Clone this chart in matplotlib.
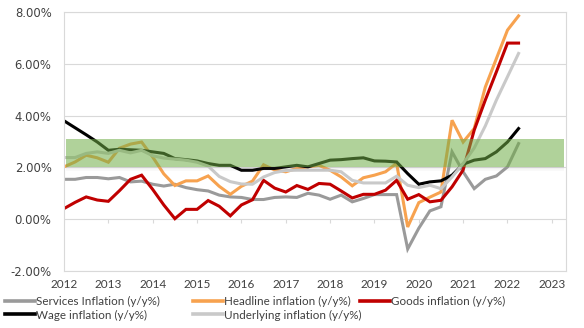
import numpy as np
import matplotlib
matplotlib.use("Agg")
import matplotlib.pyplot as plt
from matplotlib.lines import Line2D

# quarterly observations, 2012Q1 .. 2022Q2
start_year = 2012
services = [1.54, 1.54, 1.61, 1.61, 1.56, 1.61, 1.44, 1.47, 1.35, 1.28,
            1.35, 1.22, 1.14, 1.09, 0.93, 0.86, 0.84, 0.76, 0.76, 0.84,
            0.86, 0.84, 1.00, 0.93, 0.77, 0.93, 0.67, 0.80, 0.95, 0.95,
            0.95, -1.15, -0.35, 0.32, 0.48, 2.60, 1.83, 1.18, 1.54, 1.67,
            2.02, 2.92]
headline = [2.02, 2.21, 2.47, 2.37, 2.20, 2.74, 2.90, 2.98, 2.40, 1.75,
            1.30, 1.48, 1.48, 1.67, 1.27, 0.96, 1.27, 1.47, 2.10, 1.90,
            1.83, 1.96, 2.02, 2.08, 1.89, 1.63, 1.29, 1.60, 1.70, 1.83,
            2.16, -0.30, 0.64, 0.85, 1.05, 3.82, 2.98, 3.50, 5.10, 6.20,
            7.30, 7.85]
goods = [0.41, 0.65, 0.86, 0.74, 0.69, 1.10, 1.54, 1.70, 1.15, 0.55,
         0.02, 0.38, 0.38, 0.72, 0.50, 0.13, 0.55, 0.75, 1.50, 1.20,
         1.05, 1.30, 1.15, 1.38, 1.35, 1.09, 0.82, 0.96, 0.96, 1.12,
         1.50, 0.77, 0.95, 0.67, 0.73, 1.25, 1.90, 3.44, 4.60, 5.69,
         6.80, 6.80]
wage = [3.80, 3.53, 3.26, 2.98, 2.66, 2.70, 2.68, 2.66, 2.60, 2.54,
        2.34, 2.30, 2.25, 2.15, 2.08, 2.08, 1.89, 1.89, 1.96, 1.96,
        2.02, 2.08, 2.02, 2.15, 2.28, 2.30, 2.34, 2.37, 2.25, 2.24,
        2.21, 1.76, 1.35, 1.44, 1.48, 1.70, 2.12, 2.28, 2.34, 2.60,
        2.98, 3.50]
underlying = [2.38, 2.38, 2.54, 2.60, 2.54, 2.66, 2.56, 2.66, 2.45, 2.36,
              2.32, 2.28, 2.20, 2.05, 1.65, 1.45, 1.36, 1.35, 1.63, 1.80,
              1.88, 1.89, 1.89, 1.89, 1.89, 1.83, 1.50, 1.40, 1.40, 1.40,
              1.66, 1.31, 1.22, 1.31, 1.18, 1.63, 2.15, 2.75, 3.60, 4.60,
              5.50, 6.40]
band_low, band_high = 2.0, 3.08
years = list(range(2012, 2024))
yticks = [-2, 0, 2, 4, 6, 8]

t = start_year + 0.25 * np.arange(len(services))

series = [
    (services, "Services Inflation (y/y%)", "#9a9a9a"),
    (headline, "Headline inflation (y/y%)", "#f7a24f"),
    (goods, "Goods inflation (y/y%)", "#c00000"),
    (wage, "Wage inflation (y/y%)", "#000000"),
    (underlying, "Underlying inflation (y/y%)", "#c9c9c9"),
]

plt.rcParams['font.family'] = ['Lato', 'DejaVu Sans']

fig = plt.figure(figsize=(5.84, 3.28), dpi=100)
ax = fig.add_axes([0.1096, 0.1738, 0.9692 - 0.1096, 0.9634 - 0.1738])

grid_col = "#d9d9d9"
for v in yticks:
    ax.axhline(v, color=grid_col, lw=0.8, zorder=0)

handles = {}
for vals, name, col in series:
    ax.plot(t, vals, color=col, lw=2.2, solid_joinstyle='miter', zorder=2)
    handles[name] = Line2D([], [], color=col, lw=2.6)

# target band with a soft shadow underneath
bx = [2012.04, 2023.28]
ax.fill_between(bx, band_low, band_high, color="#70ad47", alpha=0.55, lw=0, zorder=3)
for k in range(5):
    ax.fill_between(bx, band_low - 0.03 * (k + 1), band_low - 0.03 * k,
                    color="#808080", alpha=0.10 - 0.018 * k, lw=0, zorder=3)

# small tick marks sitting on the 0% line
ax.vlines(years, -0.15, 0, color=grid_col, lw=0.8, zorder=0)

ax.set_xlim(2012, 2023.32)
ax.set_ylim(-2, 8)
ax.set_xticks(years)
ax.set_xticklabels([str(y) for y in years], fontsize=8.5, color="#404040")
ax.set_yticks(yticks)
ax.set_yticklabels(["%.2f%%" % v for v in yticks], fontsize=8.4, color="#404040",
                   family=['DejaVu Sans'])
ax.tick_params(length=0, pad=6)
ax.tick_params(axis='y', pad=9)
for s in ax.spines.values():
    s.set_color(grid_col)
    s.set_linewidth(0.8)

# legend laid out in three columns like the original
cols = [
    (0.008, ["Services Inflation (y/y%)", "Wage inflation (y/y%)"]),
    (0.330, ["Headline inflation (y/y%)", "Underlying inflation (y/y%)"]),
    (0.616, ["Goods inflation (y/y%)"]),
]
for x0, names in cols:
    lg = fig.legend([handles[n] for n in names], names, loc='upper left',
                    bbox_to_anchor=(x0, 0.098), frameon=False, fontsize=8.4,
                    handlelength=2.6, handletextpad=0.05, borderpad=0,
                    borderaxespad=0, labelspacing=0.22)
    for txt in lg.get_texts():
        txt.set_color("#404040")

fig.savefig("out.png", dpi=100)
